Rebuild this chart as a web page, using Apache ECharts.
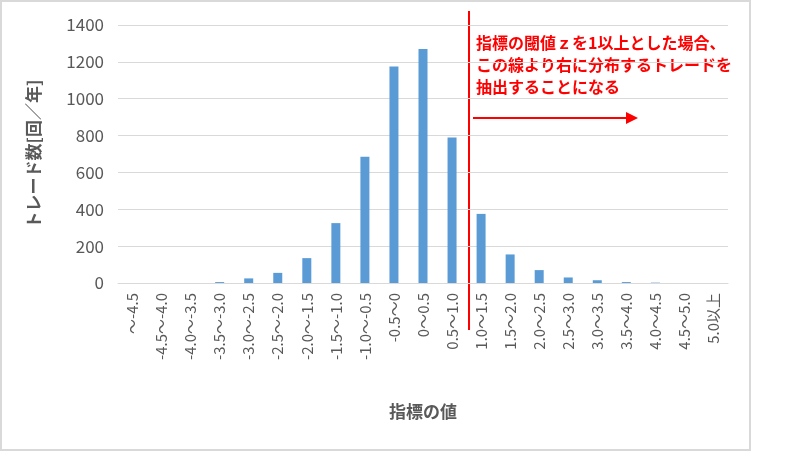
<!DOCTYPE html>
<html><head><meta charset="utf-8">
<script src="https://cdn.jsdelivr.net/npm/echarts@6/dist/echarts.min.js"></script>
<style>html,body{margin:0;padding:0;background:#fff}#c{width:794px;height:452px}</style>
</head><body><div id="c"></div>
<script>
const categories = ['~-4.5','-4.5~-4.0','-4.0~-3.5','-3.5~-3.0','-3.0~-2.5','-2.5~-2.0','-2.0~-1.5','-1.5~-1.0','-1.0~-0.5','-0.5~0','0~0.5','0.5~1.0','1.0~1.5','1.5~2.0','2.0~2.5','2.5~3.0','3.0~3.5','3.5~4.0','4.0~4.5','4.5~5.0','5.0以上'];
const values = [0,0,0,5,25,55,135,325,685,1175,1270,790,375,155,70,30,15,5,2,0,0];
const yTicks = [0,200,400,600,800,1000,1200,1400];
const chart = echarts.init(document.getElementById('c'));
const font = '"Noto Sans CJK JP", sans-serif';
chart.setOption({
  animation:false,
  textStyle:{fontFamily:font},
  grid:{left:118,right:66,top:25,bottom:169},
  xAxis:{type:'category',data:categories,
    axisLine:{lineStyle:{color:'#d9d9d9'}},axisTick:{show:false},
    axisLabel:{rotate:90,interval:0,color:'#595959',fontSize:15,fontFamily:font,margin:10,
      formatter:v=>v.replace(/~/g,'～').replace(/-/g,'-')},
    name:'指標の値',nameLocation:'middle',nameGap:120,
    nameTextStyle:{color:'#595959',fontSize:17,fontWeight:'bold',fontFamily:font}},
  yAxis:{type:'value',min:yTicks[0],max:yTicks[yTicks.length-1],interval:200,
    axisLine:{show:false},axisTick:{show:false},
    splitLine:{lineStyle:{color:'#d9d9d9'}},
    axisLabel:{color:'#595959',fontSize:17,fontFamily:font,margin:14,formatter:v=>String(v)},
    name:'トレード数[回／年]',nameLocation:'middle',nameGap:76,
    nameTextStyle:{color:'#595959',fontSize:17,fontWeight:'bold',fontFamily:font}},
  series:[{type:'bar',data:values,barWidth:9,itemStyle:{color:'#5b9bd5'}}],
  graphic:[
    {type:'rect',shape:{x:1,y:1,width:749,height:449},style:{fill:'none',stroke:'#d9d9d9',lineWidth:2}},
    {type:'line',shape:{x1:469,y1:11,x2:469,y2:330},style:{stroke:'#ff0000',lineWidth:2}},
    {type:'line',shape:{x1:473,y1:118,x2:628,y2:118},style:{stroke:'#ff0000',lineWidth:2}},
    {type:'polygon',shape:{points:[[638,118],[626,112],[626,124]]},style:{fill:'#ff0000'}},
    {type:'text',x:476,y:32,style:{text:'指標の閾値ｚを1以上とした場合、\nこの線より右に分布するトレードを\n抽出することになる',
      fill:'#ff0000',font:'bold 16px '+font,lineHeight:22}}
  ]
});
</script></body></html>
